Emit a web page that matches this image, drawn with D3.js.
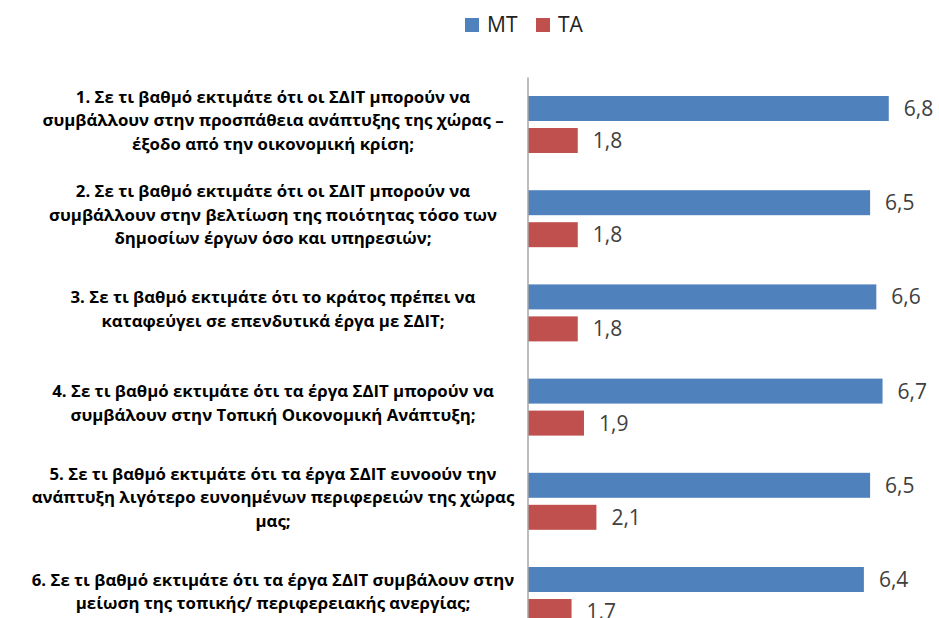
<!DOCTYPE html>
<html>
<head>
<meta charset="utf-8">
<script src="https://cdn.jsdelivr.net/npm/d3@7"></script>
<style>
  body { margin: 0; background: #fff; }
  svg { display: block; }
</style>
</head>
<body>
<div id="chart"></div>
<script>
// data
const questions = [
    ["1. Σε τι βαθμό εκτιμάτε ότι οι ΣΔΙΤ μπορούν να", "συμβάλλουν στην προσπάθεια ανάπτυξης της χώρας –", "έξοδο από την οικονομική κρίση;"],
    ["2. Σε τι βαθμό εκτιμάτε ότι οι ΣΔΙΤ μπορούν να", "συμβάλλουν στην βελτίωση  της ποιότητας τόσο των", "δημοσίων έργων όσο και υπηρεσιών;"],
    ["3. Σε τι βαθμό εκτιμάτε ότι το κράτος πρέπει να", "καταφεύγει σε επενδυτικά έργα με ΣΔΙΤ;"],
    ["4. Σε τι βαθμό εκτιμάτε ότι τα έργα ΣΔΙΤ μπορούν να", "συμβάλουν στην Τοπική Οικονομική Ανάπτυξη;"],
    ["5. Σε τι βαθμό εκτιμάτε ότι τα έργα ΣΔΙΤ ευνοούν την", "ανάπτυξη λιγότερο ευνοημένων περιφερειών της χώρας", "μας;"],
    ["6. Σε τι βαθμό εκτιμάτε ότι τα έργα ΣΔΙΤ συμβάλουν στην", "μείωση της τοπικής/ περιφερειακής ανεργίας;"]
];
const seriesNames = ["MT", "TA"];
const mtValues = [6.8, 6.5, 6.6, 6.7, 6.5, 6.4];
const taValues = [1.8, 1.8, 1.8, 1.9, 2.1, 1.7];
const colors = ["#4F81BD", "#C0504D"];

const width = 939;
const height = 618;

const svg = d3.select("#chart")
    .append("svg")
    .attr("width", width)
    .attr("height", height)
    .style("overflow", "hidden");

const rows = questions.map((q, i) => ({ q, vals: [mtValues[i], taValues[i]] }));

// the plot runs past the bottom edge of the picture
const x = d3.scaleLinear()
    .domain([1, 7])
    .range([528, 901.2]);

const y = d3.scaleBand()
    .domain(d3.range(questions.length))
    .range([77.4, 642.6])
    .paddingInner(0.395)
    .paddingOuter(0.1975);

const ySeries = d3.scaleBand()
    .domain(seriesNames)
    .range([0, y.bandwidth()])
    .paddingInner(0.21875);

const groups = svg.selectAll(".group")
    .data(rows)
    .enter().append("g")
    .attr("class", "group")
    .attr("transform", (d, i) => `translate(0,${y(i)})`);

groups.selectAll("rect")
    .data(d => d.vals.map((v, j) => ({ v, s: seriesNames[j], j })))
    .enter().append("rect")
    .attr("x", x(1))
    .attr("y", d => ySeries(d.s))
    .attr("width", d => x(d.v) - x(1))
    .attr("height", ySeries.bandwidth())
    .attr("fill", d => colors[d.j]);

groups.selectAll(".val")
    .data(d => d.vals.map((v, j) => ({ v, s: seriesNames[j] })))
    .enter().append("text")
    .attr("class", "val")
    .attr("x", d => x(d.v) + 15)
    .attr("y", d => ySeries(d.s) + ySeries.bandwidth() / 2 + 7.5)
    .attr("font-family", "'Open Sans', sans-serif")
    .attr("font-size", 21)
    .attr("fill", "#404040")
    .text(d => d3.format(".1f")(d.v).replace(".", ","));

// category labels, centred lines
const lineH = 23.5;
groups.append("text")
    .attr("font-family", "'Open Sans', sans-serif")
    .attr("font-weight", "bold")
    .attr("font-size", 16.8)
    .attr("fill", "#000")
    .attr("text-anchor", "middle")
    .selectAll("tspan")
    .data(d => d.q.map((line, k) => ({ line, k, n: d.q.length })))
    .enter().append("tspan")
    .attr("x", 273)
    .attr("y", d => y.bandwidth() / 2 + 2 + (d.k - (d.n - 1) / 2) * lineH)
    .text(d => d.line);

// vertical axis line
svg.append("line")
    .attr("x1", x(1)).attr("x2", x(1))
    .attr("y1", y.range()[0]).attr("y2", height)
    .attr("stroke", "#A6A6A6")
    .attr("stroke-width", 1.5);

// legend
const legendX = [465, 536];
const legend = svg.selectAll(".legend")
    .data(seriesNames)
    .enter().append("g")
    .attr("class", "legend")
    .attr("transform", (d, i) => `translate(${legendX[i]},18)`);

legend.append("rect")
    .attr("width", 14)
    .attr("height", 14)
    .attr("fill", (d, i) => colors[i]);

legend.append("text")
    .attr("x", 22)
    .attr("y", 14)
    .attr("font-family", "'Open Sans', sans-serif")
    .attr("font-size", 21)
    .attr("fill", "#222")
    .text(d => d);
</script>
</body>
</html>
